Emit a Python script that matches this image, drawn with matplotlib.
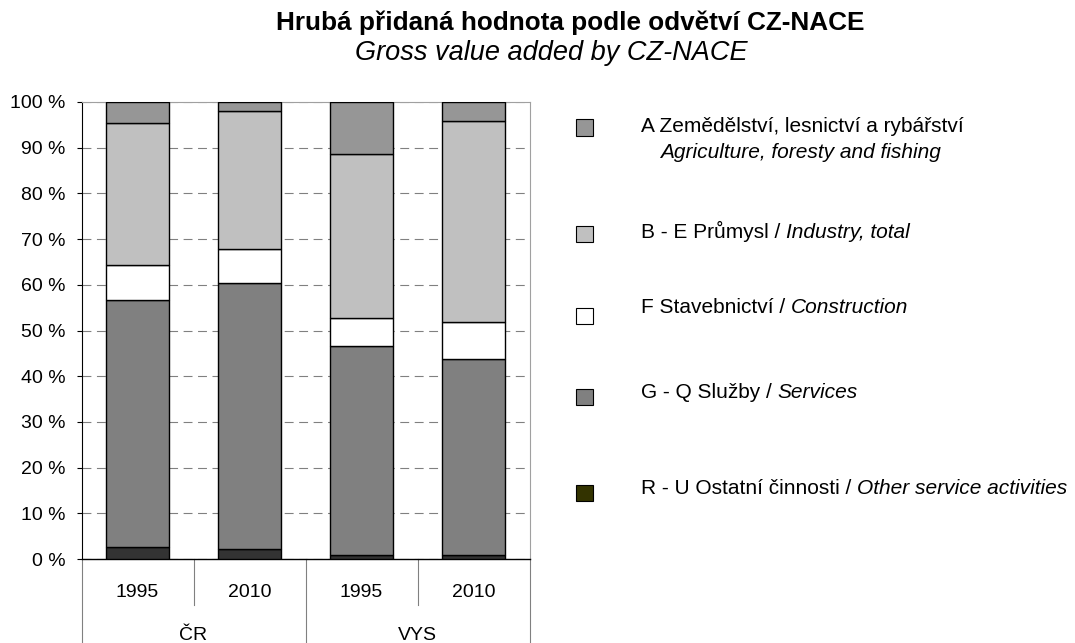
import numpy as np
import matplotlib.pyplot as plt
from matplotlib.patches import Rectangle
import matplotlib.transforms as mtransforms

plt.rcParams['font.family'] = ['Liberation Sans', 'DejaVu Sans']

# data (shares in %), bottom segment first
years = ['1995', '2010', '1995', '2010']
groups = ['ČR', 'VYS']
ru = [2.6, 2.2, 0.9, 0.9]       # R - U Ostatní činnosti
gq = [54.1, 58.3, 45.6, 42.9]   # G - Q Služby
f_con = [7.6, 7.4, 6.3, 8.0]    # F Stavebnictví
be = [31.1, 30.1, 35.9, 44.1]   # B - E Průmysl
a_agr = [4.6, 2.0, 11.3, 4.1]   # A Zemědělství

series = [ru, gq, f_con, be, a_agr]
bar_colors = ['#333333', '#808080', '#ffffff', '#c0c0c0', '#969696']

leg_cz = ['A Zemědělství, lesnictví a rybářství', 'B - E Průmysl / ', 'F Stavebnictví / ',
          'G - Q Služby / ', 'R - U Ostatní činnosti / ']
leg_en = ['Agriculture, foresty and fishing', 'Industry, total', 'Construction',
          'Services', 'Other service activities']
leg_colors = ['#969696', '#c0c0c0', '#ffffff', '#808080', '#333300']

yticks = [0, 10, 20, 30, 40, 50, 60, 70, 80, 90, 100]
ylabels = [f'{v} %' for v in yticks]

W, H = 1075, 643
fig = plt.figure(figsize=(W / 100, H / 100), dpi=100)
ax = fig.add_axes([81.5 / W, (H - 559) / H, 448 / W, 457 / H])

x = np.arange(len(years))
bottom = np.zeros(len(years))
for vals, col in zip(series, bar_colors):
    ax.bar(x, vals, width=0.57, bottom=bottom, color=col, edgecolor='black', linewidth=1.0, zorder=3)
    bottom += np.array(vals)

ax.set_xlim(-0.5, 3.5)
ax.set_ylim(0, 100)
ax.set_yticks(yticks, ylabels, fontsize=14)
ax.tick_params(axis='y', length=3.5, width=0.8, direction='out', pad=8)
ax.set_xticks([])
ax.yaxis.grid(True, linestyle=(0, (8, 5)), color='#808080', linewidth=0.8)
ax.set_axisbelow(True)
for s in ['top', 'right']:
    ax.spines[s].set_color('#a0a0a0')
    ax.spines[s].set_linewidth(0.8)
ax.spines['left'].set_linewidth(0.8)
ax.spines['bottom'].set_linewidth(1.0)

# two-level category axis
trans = mtransforms.blended_transform_factory(ax.transData, ax.transAxes)
short = -46 / 457
long_ = -84 / 457
for i, yr in enumerate(years):
    ax.text(i, -38 / 457, yr, transform=trans, ha='center', va='baseline', fontsize=14)
for j, g in enumerate(groups):
    ax.text(2 * j + 0.5, -81 / 457, g, transform=trans, ha='center', va='baseline', fontsize=14)
for xv in [0.5, 2.5]:
    ax.plot([xv, xv], [0, short], transform=trans, color='#808080', lw=0.8, clip_on=False)
for xv in [-0.5, 1.5, 3.5]:
    ax.plot([xv, xv], [0, long_], transform=trans, color='#808080', lw=0.8, clip_on=False)

# title
fig.text(570 / W, 1 - 30 / H, 'Hrubá přidaná hodnota podle odvětví CZ-NACE',
         ha='center', va='baseline', fontsize=18.8, fontweight='bold')
fig.text(551 / W, 1 - 60 / H, 'Gross value added by CZ-NACE',
         ha='center', va='baseline', fontsize=19.5, style='italic')

# legend drawn by hand
leg_base = [132, 238, 313, 398, 494]
box_mid = [127.5, 234, 316, 397, 493]
for k in range(len(leg_cz)):
    fig.add_artist(Rectangle((576 / W, 1 - (box_mid[k] + 8) / H), 17 / W, 16 / H,
                             transform=fig.transFigure, facecolor=leg_colors[k],
                             edgecolor='black', linewidth=0.8))
    t1 = fig.text(641 / W, 1 - leg_base[k] / H, leg_cz[k], ha='left', va='baseline', fontsize=15)
    if k == 0:
        fig.text(660 / W, 1 - 158 / H, leg_en[k], ha='left', va='baseline',
                 fontsize=15, style='italic')
    else:
        fig.add_artist(plt.Annotation(leg_en[k], xy=(1, 0), xycoords=t1, xytext=(0, 0),
                                      textcoords='offset points', ha='left', va='bottom',
                                      fontsize=15, style='italic'))

fig.savefig('out.png', dpi=100)
